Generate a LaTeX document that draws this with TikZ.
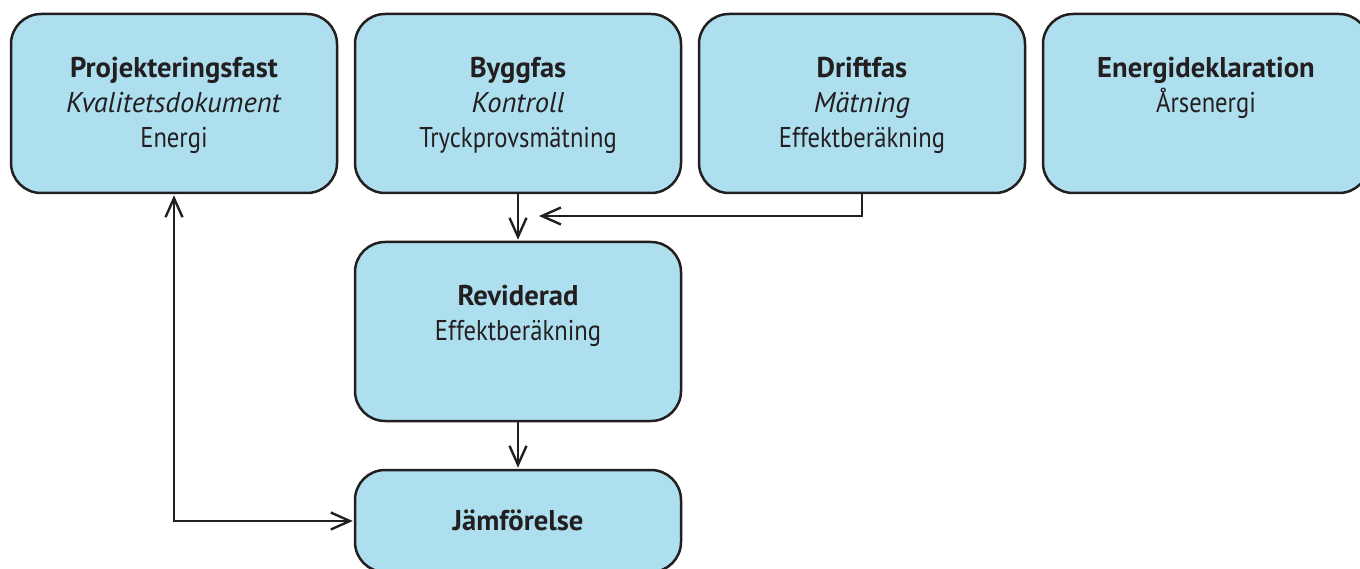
\documentclass[tikz,border=0pt]{standalone}
\usepackage{fontspec}
\setmainfont{PT Sans}[UprightFeatures={FakeStretch=0.86}]
\usepackage{tikz}
\usetikzlibrary{arrows.meta}
\usetikzlibrary{positioning}

\definecolor{boxblue}{RGB}{173,223,239}
\definecolor{linecol}{RGB}{35,31,32}

\tikzset{
  fasbox/.style={draw=linecol, fill=boxblue, line width=2.5pt, rounded corners=30pt,
    text width=326pt, align=center, inner sep=0pt, text height=64pt, text depth=115pt,
    text=linecol, font=\fontsize{28.6}{35}\selectfont},
  pil/.style={draw=linecol, line width=2.4pt},
  >={Straight Barb[length=19pt,width=17pt,line width=2.4pt]},
}

\begin{document}
\begin{tikzpicture}[x=1pt,y=-1pt,shorten >=1pt,node distance=344pt,on grid]
			\useasboundingbox (0,0) rectangle (1360,569);
			\node[fasbox] (P) at (174,103.5) {\textbf{Projekteringsfast}\\\textit{Kvalitetsdokument}\\Energi};
			\node[fasbox] (B) [right=of P] {\textbf{Byggfas}\\\textit{Kontroll}\\Tryckprovsmätning};
			\node[fasbox] (D) [right=of B] {\textbf{Driftfas}\\\textit{Mätning}\\Effektberäkning};
			\node[fasbox] (E) [right=of D] {\textbf{Energideklaration}\\Årsenergi};
			\node[fasbox] (R) [below=228pt of B] {\textbf{Reviderad}\\Effektberäkning};
			\node[fasbox, text height=60pt, text depth=42pt] (J) [below=189.5pt of R] {\textbf{Jämförelse}};
			\coordinate (Dpil) at (538,216);
			\path[pil,->]
			(B) edge (R)
			(R) edge (J);
			\draw[pil,->] (D.south) |- (Dpil);
			\draw[pil,<->,shorten <=1pt] (P.south) |- (J.west);
		\end{tikzpicture}
\end{document}
